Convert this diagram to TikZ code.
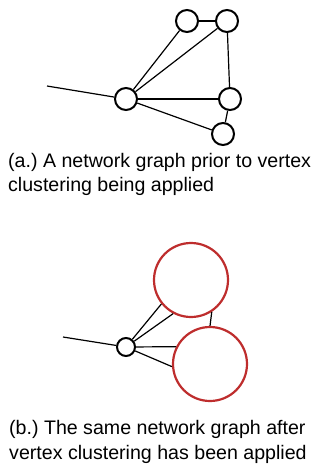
\documentclass[tikz,border=0pt]{standalone}
\usepackage{fontspec}
\setmainfont{Liberation Sans}
\usetikzlibrary{positioning}
\definecolor{clusterred}{RGB}{190,45,45}
\frenchspacing

\begin{document}
\begin{tikzpicture}[
  x=1pt, y=-1pt,
  vertex/.style={
    circle, draw=black, fill=white, line width=2pt,
    minimum size=22pt, inner sep=0pt
  },
  cluster/.style={
    circle, draw=clusterred, fill=white, line width=2.2pt,
    minimum size=74pt, inner sep=0pt
  },
  edge/.style={line width=1.2pt, color=black},
  caption/.style={
    anchor=base west, align=left, inner sep=0pt,
    font=\fontsize{19.6}{24.4}\selectfont
  },
]
\useasboundingbox (0,0) rectangle (329,466);

% --- (a.) graph before clustering ---
\coordinate (tailA) at (47,86);
\node[vertex] (hubA)   at (126,99)  {};
\node[vertex] (topL)   at (187,21)  {};
\node[vertex] (topR)   at (227,21)  {};
\node[vertex] (midR)   at (230,99)  {};
\node[vertex] (botR)   at (223,134) {};

\draw[edge] (tailA) -- (hubA);
\draw[edge] (hubA) -- (topL);
\draw[edge] (hubA) -- (topR);
\draw[edge] (hubA) -- (midR);
\draw[edge] (hubA) -- (botR);
\draw[edge] (topL) -- (topR);
\draw[edge] (topR) -- (midR);
\draw[edge] (midR) -- (botR);

% base = baseline of the last line
\node[caption] (capA) at (8,191.7)
  {(a.) A network graph prior to vertex\\clustering being applied};

% --- (b.) graph after clustering ---
\coordinate (tailB) at (63,337);
\node[vertex, minimum size=18pt] (hubB) at (126,347) {};
\node[cluster] (bigA) at (191,280) {};
\node[cluster] (bigB) at (210,364) {};

\draw[edge] (tailB) -- (hubB);
\draw[edge] (hubB) -- (bigA.219);
\draw[edge] (hubB) -- (bigA.242);
\draw[edge] (hubB) -- (bigB.153);
\draw[edge] (hubB) -- (bigB.184);
\draw[edge] (bigA.-57) -- (bigB.north);

\node[caption, font=\fontsize{19.6}{25.3}\selectfont] (capB) at (9,459.3)
  {(b.) The same network graph after\\vertex clustering has been applied};

\end{tikzpicture}
\end{document}
